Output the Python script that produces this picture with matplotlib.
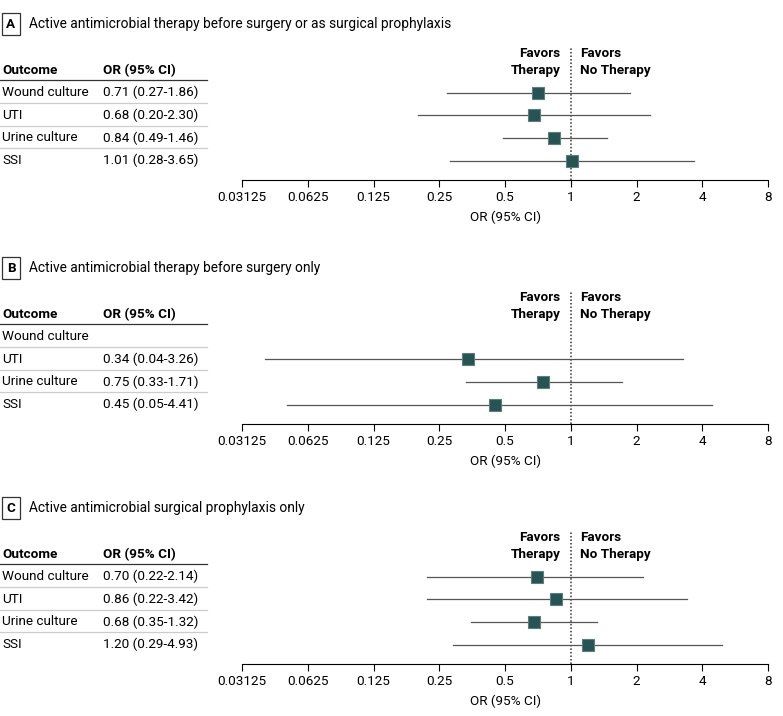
import numpy as np
import matplotlib
matplotlib.use("Agg")
import matplotlib.pyplot as plt
import matplotlib.transforms as mtransforms

plt.rcParams['font.family'] = ['Liberation Sans Narrow', 'Roboto', 'DejaVu Sans']

# data
outcomes = ["Wound culture", "UTI", "Urine culture", "SSI"]
panel_letters = ["A", "B", "C"]
panel_titles = [
    "Active antimicrobial therapy before surgery or as surgical prophylaxis",
    "Active antimicrobial therapy before surgery only",
    "Active antimicrobial surgical prophylaxis only",
]
or_a = [0.71, 0.68, 0.84, 1.01]
lo_a = [0.27, 0.20, 0.49, 0.28]
hi_a = [1.86, 2.30, 1.46, 3.65]
or_b = [None, 0.34, 0.75, 0.45]
lo_b = [None, 0.04, 0.33, 0.05]
hi_b = [None, 3.26, 1.71, 4.41]
or_c = [0.70, 0.86, 0.68, 1.20]
lo_c = [0.22, 0.22, 0.35, 0.29]
hi_c = [2.14, 3.42, 1.32, 4.93]
xticks = [0.03125, 0.0625, 0.125, 0.25, 0.5, 1, 2, 4, 8]
xticklabels = ["0.03125", "0.0625", "0.125", "0.25", "0.5", "1", "2", "4", "8"]

W, H = 783, 716
fig = plt.figure(figsize=(W / 100, H / 100), dpi=100)

marker_color = "#275352"
line_color = "#555555"
FS = 9.7
ROW = 22.6  # px per row


def draw_panel(title_px, letter, title, ors, los, his):
    axis_px = title_px + 156
    top_px = title_px + 23
    ax = fig.add_axes([242 / W, 1 - axis_px / H, 526 / W, (axis_px - top_px) / H])
    ax.set_xscale('log', base=2)
    ax.set_xlim(0.03125, 8)
    ax.set_ylim(4.86, -1.02)
    for s in ['left', 'right', 'top']:
        ax.spines[s].set_visible(False)
    ax.spines['bottom'].set_linewidth(0.8)
    ax.set_yticks([])
    ax.set_xticks(xticks)
    ax.set_xticklabels(xticklabels)
    ax.minorticks_off()
    ax.tick_params(axis='x', length=5, width=0.8, labelsize=FS, pad=3)
    ax.set_xlabel("OR (95% CI)", fontsize=FS, labelpad=5)
    ax.axvline(1, color="#333333", linestyle=(0, (1, 1.3)), linewidth=1.1)

    for i, (o, l, h) in enumerate(zip(ors, los, his)):
        if o is None:
            continue
        y = i + 1
        ax.plot([l, h], [y, y], color=line_color, linewidth=0.9, zorder=2)
        ax.plot([o], [y], marker='s', markersize=9, color=marker_color,
                markeredgecolor="#5b7f7e", markeredgewidth=0.8, zorder=3)

    # favors labels
    left = mtransforms.offset_copy(ax.transData, fig=fig, x=-10, y=0, units='dots')
    right = mtransforms.offset_copy(ax.transData, fig=fig, x=9, y=0, units='dots')
    for y, tl, tr_ in [(-0.72, "Favors", "Favors"), (0, "Therapy", "No Therapy")]:
        ax.text(1, y, tl, transform=left, ha='right', va='center',
                fontsize=FS, fontweight='bold', clip_on=False)
        ax.text(1, y, tr_, transform=right, ha='left', va='center',
                fontsize=FS, fontweight='bold', clip_on=False)

    # table
    tr = mtransforms.blended_transform_factory(fig.transFigure, ax.transData)
    ax.text(2 / W, 0, "Outcome", transform=tr, ha='left', va='center',
            fontsize=FS, fontweight='bold', clip_on=False)
    ax.text(103 / W, 0, "OR (95% CI)", transform=tr, ha='left', va='center',
            fontsize=FS, fontweight='bold', clip_on=False)
    ax.plot([0, 207 / W], [0.46, 0.46], transform=tr, color="#333333", linewidth=0.9, clip_on=False)
    for i, (name, o, l, h) in enumerate(zip(outcomes, ors, los, his)):
        y = i + 1
        ax.text(2 / W, y, name, transform=tr, ha='left', va='center', fontsize=FS, clip_on=False)
        if o is not None:
            ax.text(103 / W, y, f"{o:.2f} ({l:.2f}-{h:.2f})", transform=tr, ha='left',
                    va='center', fontsize=FS, clip_on=False)
        if i < 3:
            ax.plot([0, 207 / W], [y + 0.46, y + 0.46], transform=tr, color="#cccccc",
                    linewidth=0.9, clip_on=False)

    # panel title
    fig.text(11 / W, 1 - title_px / H, letter, ha='center', va='center', fontsize=FS,
             fontweight='bold',
             bbox=dict(boxstyle='square,pad=0.35', facecolor='white', edgecolor='#333333', linewidth=0.9))
    fig.text(29 / W, 1 - title_px / H, title, ha='left', va='center', fontsize=FS + 0.2)


draw_panel(24, panel_letters[0], panel_titles[0], or_a, lo_a, hi_a)
draw_panel(268, panel_letters[1], panel_titles[1], or_b, lo_b, hi_b)
draw_panel(508, panel_letters[2], panel_titles[2], or_c, lo_c, hi_c)

fig.savefig("out.png", dpi=100)
